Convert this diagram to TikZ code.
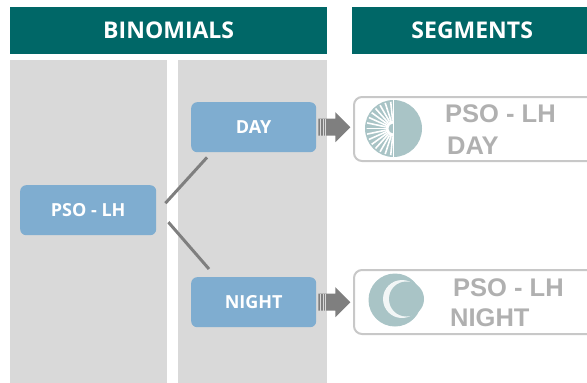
\documentclass[tikz,border=0pt]{standalone}
\usepackage{fontspec}
\setmainfont{Open Sans}
\newfontfamily\segfont{Liberation Sans}
\usetikzlibrary{calc}
\definecolor{hdrteal}{RGB}{0,103,103}
\definecolor{panelgray}{RGB}{217,217,217}
\definecolor{boxblue}{RGB}{127,173,208}
\definecolor{arrgray}{RGB}{127,127,127}
\definecolor{segborder}{RGB}{200,200,200}
\definecolor{segtext}{RGB}{176,176,176}
\definecolor{iconteal}{RGB}{169,196,198}
\tikzset{
  header/.style={fill=hdrteal, text=white, font=\bfseries\fontsize{23}{26}\selectfont, inner sep=0pt, anchor=north west},
  panel/.style={fill=panelgray, inner sep=0pt, anchor=north west},
  bluebox/.style={fill=boxblue, rounded corners=6pt, text=white, font=\bfseries\fontsize{18}{21}\selectfont, inner sep=0pt, anchor=north west},
  segbox/.style={draw=segborder, line width=2pt, fill=white, rounded corners=8pt, inner sep=0pt, anchor=north west},
  segtxt/.style={text=segtext, font=\segfont\bfseries\fontsize{25.5}{28}\selectfont, inner sep=0pt, anchor=west},
  link/.style={draw=arrgray, line width=3pt},
  blockarrow/.style={fill=arrgray}
}
\begin{document}
\begin{tikzpicture}[x=1pt,y=-1pt]
\useasboundingbox (0,0) rectangle (587,383);
\clip (0,0) rectangle (587,383);
% headers
\node[header, minimum width=317pt, minimum height=47pt] (hbin) at (10,7) {BINOMIALS};
\node[header, minimum width=240pt, minimum height=47pt] (hseg) at (352,7) {SEGMENTS};
% panels
\node[panel, minimum width=157pt, minimum height=330pt] (p1) at (10,60) {};
\node[panel, minimum width=149pt, minimum height=330pt] (p2) at (178,60) {};
% blue boxes
\node[bluebox, minimum width=136pt, minimum height=50pt] (pso) at (20,185) {PSO - LH};
\node[bluebox, minimum width=125pt, minimum height=50pt] (day) at (191,102) {DAY};
\node[bluebox, minimum width=125pt, minimum height=50pt] (night) at (191,277) {NIGHT};
% connectors
\draw[link] ($(pso.east)+(9,-7)$) -- ($(day.south west)+(16,5)$);
\draw[link] ($(pso.east)+(12,12)$) -- ($(night.north west)+(18,-8)$);
% segment boxes
\node[segbox, minimum width=260pt, minimum height=64pt] (sday) at (353,96) {};
\node[segbox, minimum width=260pt, minimum height=64pt] (snight) at (353,269) {};
% block arrows
\foreach \src in {day,night}{
  \fill[blockarrow] ($(\src.east)+(2,-8.5)$) -- ($(\src.east)+(19,-8.5)$) -- ($(\src.east)+(19,-15)$)
    -- ($(\src.east)+(34,0)$) -- ($(\src.east)+(19,15)$) -- ($(\src.east)+(19,8.5)$) -- ($(\src.east)+(2,8.5)$) -- cycle;
  \foreach \dx in {4,6.5,9}{
    \draw[white!70!arrgray, line width=0.6pt] ($(\src.east)+(\dx,-8.5)$) -- ($(\src.east)+(\dx,8.5)$);
  }
}
% sun icon
\coordinate (sun) at (393.5,128.5);
\fill[iconteal] (sun) circle (28.5);
\begin{scope}
  \clip (sun) circle (27);
  \foreach \a in {96,108,...,264}{
    \draw[white, line width=1.6pt] ($(sun)+(\a:8)$) -- ($(sun)+(\a:30)$);
  }
\end{scope}
\fill[white] ($(sun)+(0,-8)$) arc (-90:-270:8) -- cycle;
\fill[iconteal] ($(sun)+(0,-5)$) arc (-90:-270:5) -- cycle;
\draw[white, line width=1.5pt] ($(sun)+(0,-28.5)$) -- ($(sun)+(0,28.5)$);
% moon icon
\coordinate (moon) at (395,300);
\fill[iconteal] (moon) circle (26.5);
\fill[white!85!iconteal] ($(moon)+(7,-1)$) circle (19);
\fill[iconteal] ($(moon)+(11.5,-1)$) circle (17.5);
% segment texts
\node[segtxt] (sd1) at (445,114) {PSO - LH};
\node[segtxt] (sd2) at (447,146) {DAY};
\node[segtxt] (sn1) at (453,288) {PSO - LH};
\node[segtxt] (sn2) at (450,318) {NIGHT};
\end{tikzpicture}
\end{document}
